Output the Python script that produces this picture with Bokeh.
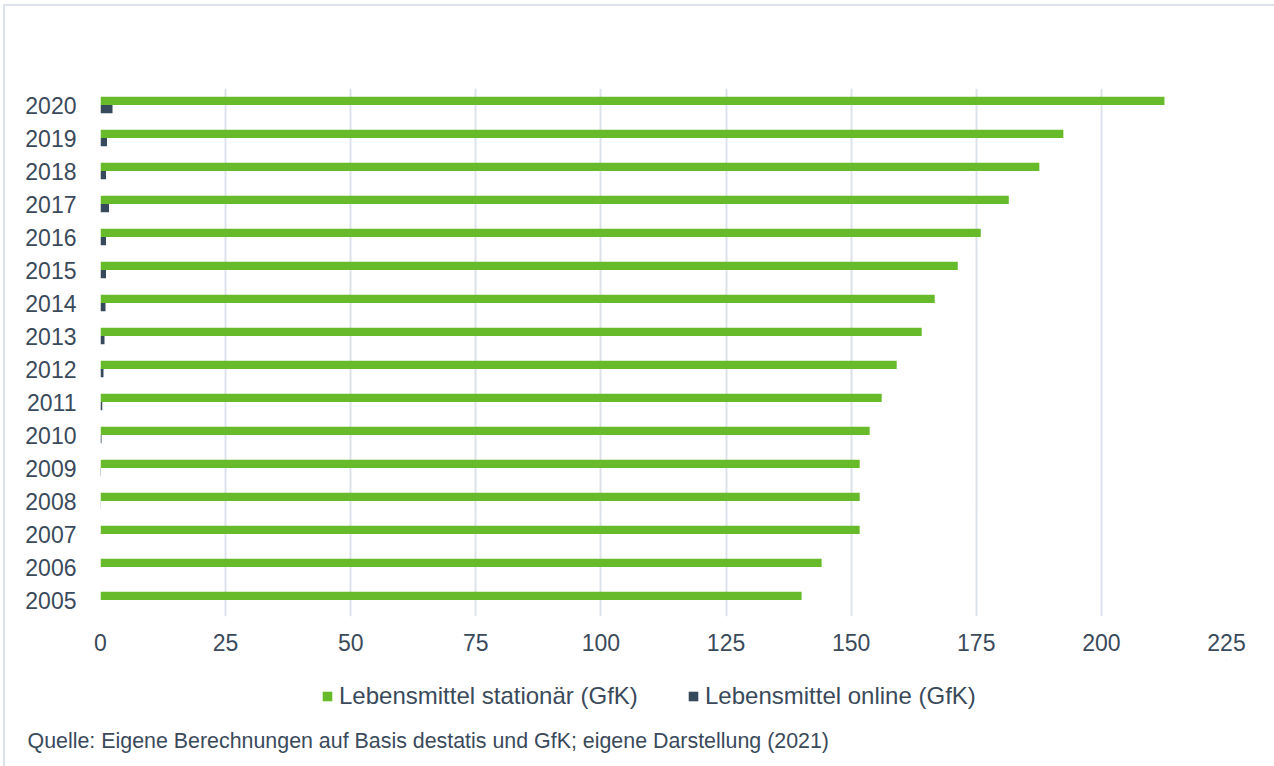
from bokeh.plotting import figure
from bokeh.layouts import column
from bokeh.models import (ColumnDataSource, FactorRange, Range1d, Legend, LegendItem,
                          Title, FixedTicker, CDSView, IndexFilter)
from bokeh.transform import dodge
from bokeh.embed import file_html
from bokeh.resources import INLINE

years = ["2005", "2006", "2007", "2008", "2009", "2010", "2011", "2012",
         "2013", "2014", "2015", "2016", "2017", "2018", "2019", "2020"]
stationaer = [140.1, 144.1, 151.7, 151.7, 151.7, 153.7, 156.1, 159.1,
              164.1, 166.7, 171.3, 175.9, 181.5, 187.6, 192.4, 212.6]
online = [0.0, 0.0, 0.0, 0.05, 0.1, 0.2, 0.35, 0.6,
          0.8, 1.0, 1.1, 1.1, 1.7, 1.1, 1.3, 2.4]
x_ticks = [0, 25, 50, 75, 100, 125, 150, 175, 200, 225]
series_names = ["Lebensmittel stationär (GfK)", "Lebensmittel online (GfK)"]
source_note = "Quelle: Eigene Berechnungen auf Basis destatis und GfK; eigene Darstellung (2021)"

GREEN = "#67bb2b"
DARK = "#364a5c"
TEXT = "#3a4a5b"
GRID = "#dde2ea"
FONT = "Liberation Sans"

src = ColumnDataSource(dict(year=years, stationaer=stationaer, online=online))

# ---- main chart ----
p = figure(width=1269, height=654, output_backend="svg", toolbar_location=None,
           y_range=FactorRange(factors=years, range_padding=0),
           x_range=Range1d(0, 225),
           min_border_left=95, min_border_right=48, min_border_top=82,
           min_border_bottom=44)
p.outline_line_color = None
p.background_fill_color = "white"
p.border_fill_color = "white"

r1 = p.hbar(y=dodge("year", 0.125, range=p.y_range), right="stationaer", left=0,
            height=0.245, source=src, fill_color=GREEN, line_color=None)
r2 = p.hbar(y=dodge("year", -0.125, range=p.y_range), right="online", left=0,
            height=0.245, source=src, fill_color=DARK, line_color=None)

p.xgrid.ticker = FixedTicker(ticks=x_ticks)
p.xgrid.grid_line_color = GRID
p.xgrid.grid_line_width = 2
p.ygrid.grid_line_color = None

p.xaxis.ticker = FixedTicker(ticks=x_ticks)
p.xaxis.axis_line_color = None
p.xaxis.major_tick_line_color = None
p.xaxis.minor_tick_line_color = None
p.xaxis.major_label_text_font = FONT
p.xaxis.major_label_text_font_size = "23px"
p.xaxis.major_label_text_color = TEXT
p.xaxis.major_label_standoff = 11

p.yaxis.axis_line_color = None
p.yaxis.major_tick_line_color = None
p.yaxis.minor_tick_line_color = None
p.yaxis.major_label_text_font = FONT
p.yaxis.major_label_text_font_size = "23px"
p.yaxis.major_label_text_color = TEXT
p.yaxis.major_label_standoff = 18

# ---- legend + source strip (same frame columns as the chart) ----
q = figure(width=1269, height=106, output_backend="svg", toolbar_location=None,
           x_range=Range1d(-2, -1), y_range=Range1d(-2, -1),
           x_axis_location=None, y_axis_location=None,
           min_border_left=95, min_border_right=48, min_border_top=0,
           min_border_bottom=40)
q.outline_line_color = None
q.grid.visible = False
q.border_fill_color = "white"

# legend swatch renderers: they carry the series data but fall outside this strip's ranges
one_row = CDSView(filter=IndexFilter(indices=[0]))
k1 = q.hbar(y="stationaer", right="stationaer", height=0.1, source=src, view=one_row,
            fill_color=GREEN, line_color=None)
k2 = q.hbar(y="stationaer", right="online", height=0.1, source=src, view=one_row,
            fill_color=DARK, line_color=None)

legend = Legend(items=[LegendItem(label=series_names[0], renderers=[k1]),
                       LegendItem(label=series_names[1], renderers=[k2])],
                orientation="horizontal", location=(221, 16),
                glyph_width=12, glyph_height=12, label_standoff=6, spacing=48,
                label_width=300, padding=0, margin=0,
                border_line_color=None, background_fill_alpha=0,
                label_text_font=FONT, label_text_font_size="24px",
                label_text_color=TEXT, label_height=24)
q.add_layout(legend, "center")

note = Title(text=source_note, align="left", offset=-73, standoff=1,
             text_font=FONT, text_font_size="21.4px", text_font_style="normal",
             text_color=TEXT)
q.add_layout(note, "below")

layout = column(p, q, spacing=0,
                styles={"margin-left": "3px", "margin-top": "4px",
                        "border-left": f"2px solid {GRID}",
                        "border-top": f"2px solid {GRID}"})

open("out.html", "w").write(file_html(layout, INLINE))
